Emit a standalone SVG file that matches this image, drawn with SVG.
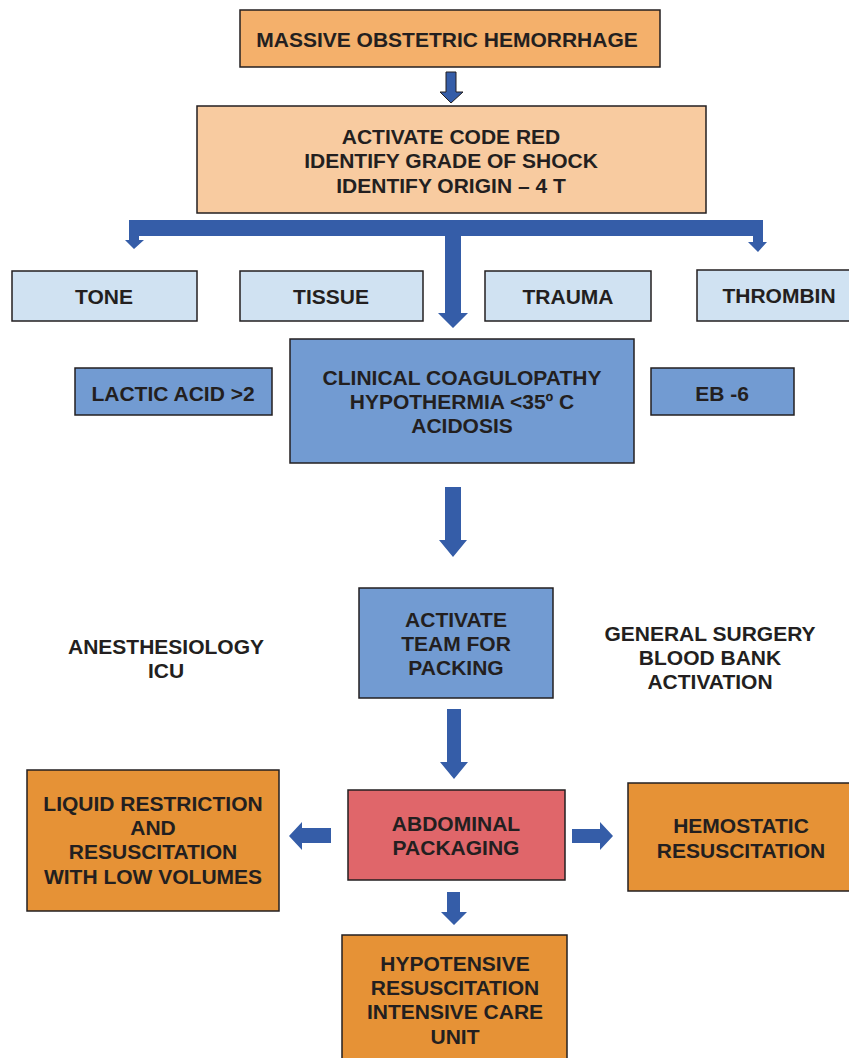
<svg xmlns="http://www.w3.org/2000/svg" width="849" height="1058" viewBox="0 0 849 1058">
<style>
.b{stroke:#231F20;stroke-width:1.5}
.o1{fill:#F4B06B}.o2{fill:#F8CBA0}.lb{fill:#D0E2F2}.mb{fill:#729BD2}.rd{fill:#E0666A}.or{fill:#E69236}
text{font-family:"Liberation Sans",Arial,sans-serif;font-weight:bold;font-size:21px;fill:#231F20;text-anchor:middle}
.ar{fill:#355DA8}
</style>
<rect width="849" height="1058" fill="#fff"/>
<g id="connectors">
<path class="ar" d="M446,72 H456 V92 H463 L451,103 L440,92 H446 Z" stroke="#231F20" stroke-width="1"/>
<path class="ar" d="M129,220 H763 V242 H767 L758,252 L748,242 H753 V236 H461 V313 H468 L453,328 L438,313 H445 V236 H139 V240 H144 L134,249 L125,240 H129 Z"/>
<path class="ar" d="M445,487 H461 V540 H467 L453,557 L439,540 H445 Z"/>
<path class="ar" d="M447,709 H461 V762 H468 L454,779 L440,762 H447 Z"/>
<path class="ar" d="M331,828 V843 H302 V850 L289,836 L302,822 V828 Z"/>
<path class="ar" d="M572,829 H600 V822 L613,836 L600,850 V843 H572 Z"/>
<path class="ar" d="M447,892 H460 V912 H467 L454,925 L441,912 H447 Z"/>
</g>
<g id="n1"><rect class="b o1" x="240" y="10" width="420" height="57"/><text x="447" y="47">MASSIVE OBSTETRIC HEMORRHAGE</text></g>
<g id="n2"><rect class="b o2" x="197" y="106" width="509" height="107"/><text x="451" y="144">ACTIVATE CODE RED</text><text x="451" y="168">IDENTIFY GRADE OF SHOCK</text><text x="451" y="193">IDENTIFY ORIGIN – 4 T</text></g>
<g id="tone"><rect class="b lb" x="12" y="271" width="185" height="50"/><text x="104" y="304">TONE</text></g>
<g id="tissue"><rect class="b lb" x="240" y="271" width="183" height="50"/><text x="331" y="304">TISSUE</text></g>
<g id="trauma"><rect class="b lb" x="485" y="271" width="166" height="50"/><text x="568" y="304">TRAUMA</text></g>
<g id="thrombin"><rect class="b lb" x="697" y="270" width="160" height="51"/><text x="779" y="303">THROMBIN</text></g>
<g id="lactic"><rect class="b mb" x="75" y="368" width="197" height="47"/><text x="173" y="401">LACTIC ACID &gt;2</text></g>
<g id="clinical"><rect class="b mb" x="290" y="339" width="344" height="124"/><text x="462" y="385">CLINICAL COAGULOPATHY</text><text x="462" y="409">HYPOTHERMIA &lt;35º C</text><text x="462" y="433">ACIDOSIS</text></g>
<g id="eb"><rect class="b mb" x="651" y="368" width="143" height="47"/><text x="722" y="401">EB -6</text></g>
<g id="anest"><text x="166" y="654">ANESTHESIOLOGY</text><text x="166" y="678">ICU</text></g>
<g id="team"><rect class="b mb" x="359" y="588" width="194" height="110"/><text x="456" y="627">ACTIVATE</text><text x="456" y="651">TEAM FOR</text><text x="456" y="675">PACKING</text></g>
<g id="surgery"><text x="710" y="641">GENERAL SURGERY</text><text x="710" y="665">BLOOD BANK</text><text x="710" y="689">ACTIVATION</text></g>
<g id="liquid"><rect class="b or" x="27" y="770" width="252" height="141"/><text x="153" y="811">LIQUID RESTRICTION</text><text x="153" y="835">AND</text><text x="153" y="859">RESUSCITATION</text><text x="153" y="884">WITH LOW VOLUMES</text></g>
<g id="abdominal"><rect class="b rd" x="348" y="790" width="217" height="90"/><text x="456" y="831">ABDOMINAL</text><text x="456" y="855">PACKAGING</text></g>
<g id="hemostatic"><rect class="b or" x="628" y="783" width="230" height="108"/><text x="741" y="833">HEMOSTATIC</text><text x="741" y="858">RESUSCITATION</text></g>
<g id="hypotensive"><rect class="b or" x="342" y="935" width="225" height="130"/><text x="455" y="971">HYPOTENSIVE</text><text x="455" y="995">RESUSCITATION</text><text x="455" y="1019">INTENSIVE CARE</text><text x="455" y="1044">UNIT</text></g>
</svg>
